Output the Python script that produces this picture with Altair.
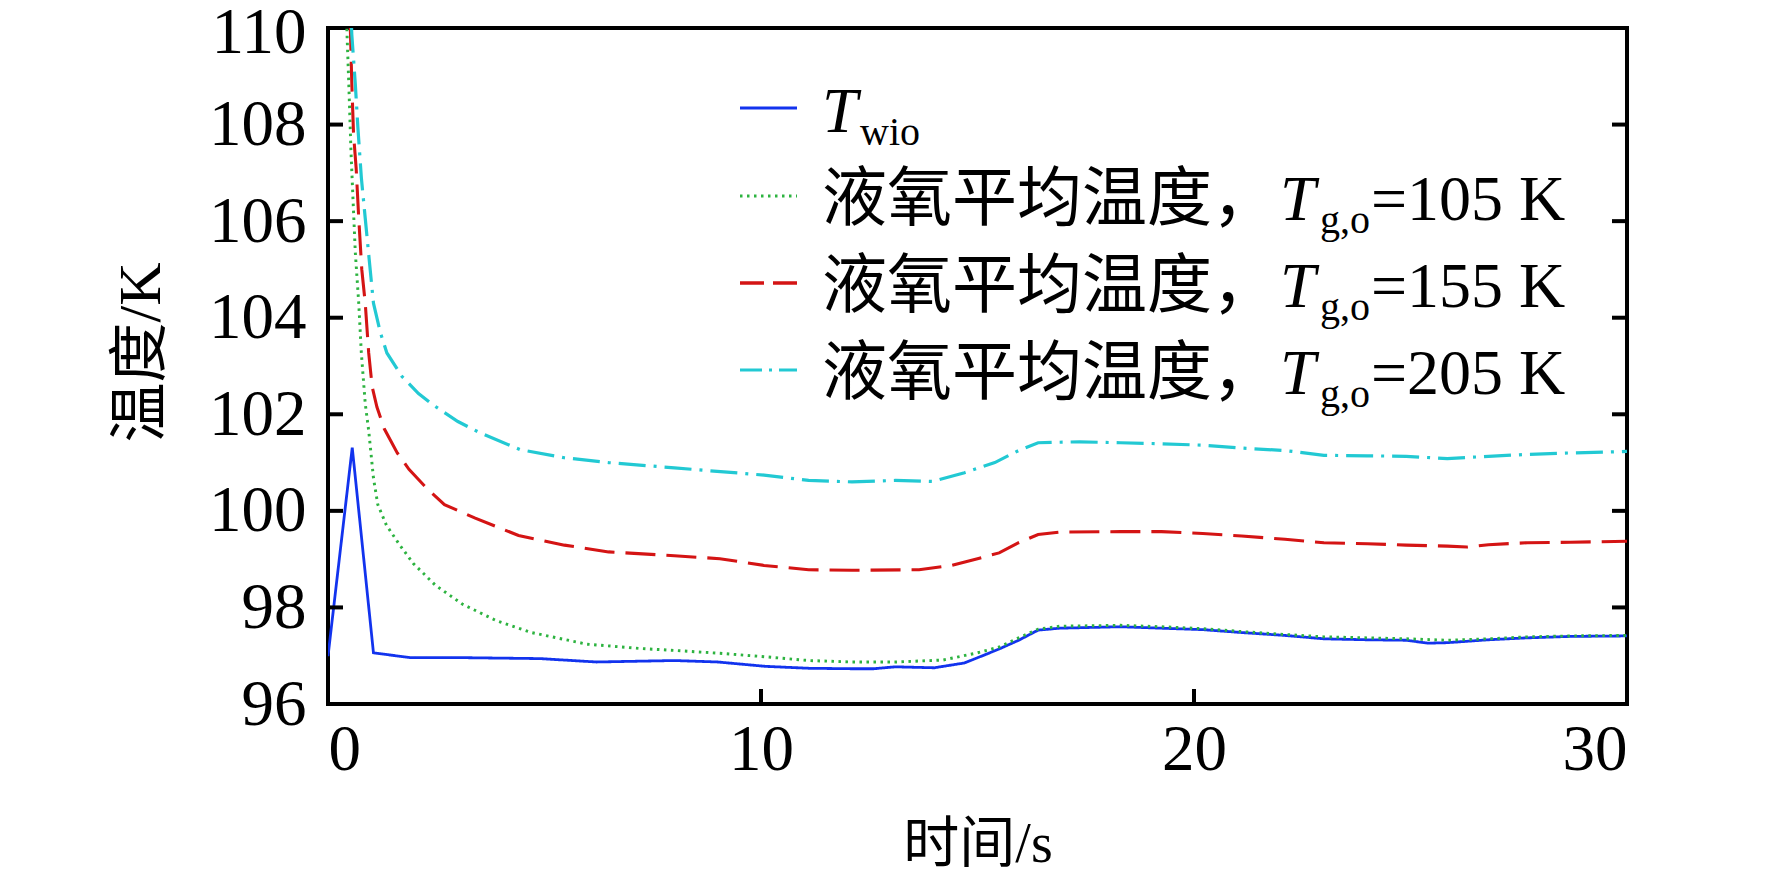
import altair as alt
import pandas as pd

# ---------------- data ----------------
t_wio = [0, 0.56, 1.05, 1.9, 3.1, 4.9, 6.2, 8.0, 9.0, 10.1, 11.1, 12.1, 12.6, 13.1, 14.0, 14.7,
         15.2, 15.5, 15.95, 16.4, 16.9, 18.3, 19.25, 20.2, 21.1, 22.1, 23.0, 24.0, 24.9, 25.4,
         25.85, 26.8, 27.7, 28.7, 30]
v_wio = [96.99, 101.31, 97.06, 96.96, 96.96, 96.94, 96.87, 96.9, 96.87, 96.78, 96.74, 96.73, 96.73,
         96.77, 96.75, 96.85, 97.03, 97.14, 97.32, 97.53, 97.57, 97.6, 97.57, 97.54, 97.48, 97.42,
         97.35, 97.33, 97.32, 97.26, 97.27, 97.33, 97.37, 97.4, 97.41]

t_105 = [0.4, 0.44, 0.48, 0.53, 0.58, 0.63, 0.71, 0.77, 0.86, 0.94, 1.05, 1.15, 1.35, 1.66, 1.97,
         2.48, 3.1, 3.9, 4.7, 5.97, 7.2, 8.0, 9.05, 10.07, 11.1, 12.1, 13.1, 14.2, 15.0, 15.5,
         15.95, 16.4, 16.9, 18.3, 19.25, 20.2, 21.1, 22.1, 23.0, 24.0, 24.9, 25.85, 26.8, 27.7,
         28.7, 30]
v_105 = [111, 109.86, 108.85, 107.46, 106.4, 105.36, 104.3, 103.27, 102.22, 101.66, 100.68, 100.13,
         99.7, 99.29, 98.91, 98.46, 98.07, 97.72, 97.48, 97.24, 97.15, 97.11, 97.05, 96.98, 96.9,
         96.87, 96.87, 96.91, 97.06, 97.18, 97.37, 97.55, 97.61, 97.63, 97.6, 97.56, 97.5, 97.44,
         97.39, 97.37, 97.35, 97.32, 97.35, 97.39, 97.41, 97.42]

t_155 = [0.48, 0.52, 0.55, 0.59, 0.65, 0.71, 0.78, 0.86, 0.94, 1.02, 1.13, 1.3, 1.6, 1.87, 2.3,
         2.69, 3.4, 4.4, 5.46, 6.48, 8.0, 9.05, 10.07, 11.1, 12.1, 13.65, 14.4, 15.0, 15.5, 15.95,
         16.4, 16.9, 18.3, 19.25, 20.2, 21.1, 22.1, 23.0, 24.0, 24.9, 25.85, 26.3, 26.8, 27.7,
         28.7, 30]
v_155 = [111, 109.86, 108.85, 107.8, 107.1, 106.06, 105.0, 104.3, 103.27, 102.57, 102.15, 101.7,
         101.2, 100.86, 100.45, 100.13, 99.85, 99.49, 99.29, 99.15, 99.07, 99.01, 98.87, 98.78,
         98.77, 98.78, 98.87, 99.01, 99.13, 99.34, 99.51, 99.56, 99.57, 99.57, 99.53, 99.48,
         99.41, 99.34, 99.32, 99.29, 99.27, 99.25, 99.3, 99.34, 99.35, 99.37]

t_205 = [0.5, 0.55, 0.63, 0.69, 0.77, 0.86, 0.95, 1.05, 1.21, 1.36, 1.71, 2.09, 2.45, 3.0, 3.5,
         4.43, 5.46, 6.48, 8.0, 10.07, 11.1, 12.1, 13.1, 13.97, 14.7, 15.4, 15.95, 16.4, 17.36,
         18.3, 19.25, 20.2, 21.1, 22.1, 23.0, 24.0, 24.9, 25.85, 26.8, 27.7, 28.7, 30]
v_205 = [111, 109.86, 108.85, 107.94, 106.9, 106.06, 105.22, 104.3, 103.69, 103.27, 102.78,
         102.43, 102.18, 101.85, 101.62, 101.27, 101.1, 101.0, 100.89, 100.74, 100.63, 100.6,
         100.63, 100.61, 100.79, 101.0, 101.25, 101.41, 101.43, 101.41, 101.39, 101.36, 101.3,
         101.25, 101.15, 101.14, 101.13, 101.08, 101.13, 101.17, 101.2, 101.23]

series_names = ["wio", "105", "155", "205"]
series_colors = ["#1233ee", "#2db340", "#d41414", "#22c9d3"]
series_dash = [[1, 0], [2.5, 4.5], [30, 11], [27, 8, 3, 8]]
series_width = [2.8, 3.2, 3.4, 3.0]
legend_dash = [[1, 0], [2.5, 4.5], [24, 9], [22, 7, 3, 7]]

y_ticks = [96, 98, 100, 102, 104, 106, 108, 110]
x_ticks = [0, 10, 20, 30]

legend_values = ["105", "155", "205"]

# ---------------- layout ----------------
W, H = 1299, 676
FONT = "Liberation Serif, Noto Sans CJK SC"
LFS = 64          # legend font size (latin)
CFS = 65          # legend font size (chinese)
SFS = 40          # subscript font size

rows = []
for name, ts, vs in zip(series_names, [t_wio, t_105, t_155, t_205], [v_wio, v_105, v_155, v_205]):
    for t, v in zip(ts, vs):
        rows.append({"series": name, "t": t, "T": v})
df = pd.DataFrame(rows)

xscale = alt.Scale(domain=[0, 30], nice=False, zero=False)
yscale = alt.Scale(domain=[96, 110], nice=False, zero=False)

lines = alt.Chart(df).mark_line(clip=True).encode(
    x=alt.X("t:Q", scale=xscale,
            axis=alt.Axis(values=x_ticks, title="时间/s", titleX=W / 2, titleY=140,
                          titleFontSize=56, titleBaseline="middle", titleAlign="center")),
    y=alt.Y("T:Q", scale=yscale,
            axis=alt.Axis(values=y_ticks, title="温度/K", titleX=-187, titleY=324,
                          titleAngle=-90, titleBaseline="middle", titleAlign="center",
                          labelOffset={"condition": {"test": "datum.value == 110", "value": 4},
                                       "value": 0})),
    color=alt.Color("series:N", scale=alt.Scale(domain=series_names, range=series_colors), legend=None),
    strokeDash=alt.StrokeDash("series:N", scale=alt.Scale(domain=series_names, range=series_dash), legend=None),
    strokeWidth=alt.StrokeWidth("series:N", scale=alt.Scale(domain=series_names, range=series_width), legend=None),
    order=alt.Order("t:Q"),
)

# inward ticks
tick_len = 15
ytick_df = pd.DataFrame({"yt": y_ticks[1:-1]})
xtick_df = pd.DataFrame({"xt": x_ticks[1:-1]})
left_ticks = alt.Chart(ytick_df).mark_rule(color="black", strokeWidth=4).encode(
    y=alt.Y("yt:Q", scale=yscale), x=alt.value(0), x2=alt.value(tick_len))
right_ticks = alt.Chart(ytick_df).mark_rule(color="black", strokeWidth=4).encode(
    y=alt.Y("yt:Q", scale=yscale), x=alt.value(W - tick_len), x2=alt.value(W))
bottom_ticks = alt.Chart(xtick_df).mark_rule(color="black", strokeWidth=4).encode(
    x=alt.X("xt:Q", scale=xscale), y=alt.value(H - tick_len), y2=alt.value(H))

# legend (custom, to allow subscripts)
row_y = [80, 168, 255, 342]
sym_x0, sym_x1 = 412, 469
txt_x = 494

legend_layers = []
for i in range(4):
    legend_layers.append(
        alt.Chart(pd.DataFrame({"k": [0]})).mark_rule(
            color=series_colors[i], strokeDash=legend_dash[i], strokeWidth=series_width[i]
        ).encode(x=alt.value(sym_x0), x2=alt.value(sym_x1), y=alt.value(row_y[i]))
    )

base_off = 24     # baseline offset from row center
sub_off = 13      # subscript drop


def txt(text, x, y, size, italic=False, align="left"):
    return alt.Chart(pd.DataFrame({"s": [text]})).mark_text(
        font=FONT, fontSize=size, fontStyle="italic" if italic else "normal",
        align=align, baseline="alphabetic", color="black"
    ).encode(text="s:N", x=alt.value(x), y=alt.value(y))


# row 1: T_wio
legend_layers.append(txt("T", txt_x, row_y[0] + base_off, LFS, italic=True))
legend_layers.append(txt("wio", txt_x + 38, row_y[0] + base_off + sub_off, SFS))

cn_label = "液氧平均温度，"
tx = txt_x + 7 * CFS + 3
for i, val in enumerate(legend_values):
    yb = row_y[i + 1] + base_off
    legend_layers.append(txt(cn_label, txt_x, yb, CFS))
    legend_layers.append(txt("T", tx, yb, LFS, italic=True))
    legend_layers.append(txt("g,o", tx + 40, yb + sub_off, SFS))
    legend_layers.append(txt("=" + val + " K", tx + 40 + 51, yb, LFS))

chart = alt.layer(lines, left_ticks, right_ticks, bottom_ticks, *legend_layers).properties(
    width=W, height=H,
    autosize=alt.AutoSizeParams(type="none"),
    padding={"left": 320, "top": 20, "right": 137, "bottom": 173},
).configure_view(
    stroke="black", strokeWidth=4
).configure_axis(
    domain=False, ticks=False, grid=False,
    labelFont=FONT, labelFontSize=65, labelColor="black",
    titleFont=FONT, titleFontSize=60, titleFontWeight="normal", titleColor="black",
).configure_axisY(
    labelPadding=22
).configure_axisX(
    labelPadding=14
)

chart.save("out.html", embed_options={"renderer": "svg", "actions": False})
